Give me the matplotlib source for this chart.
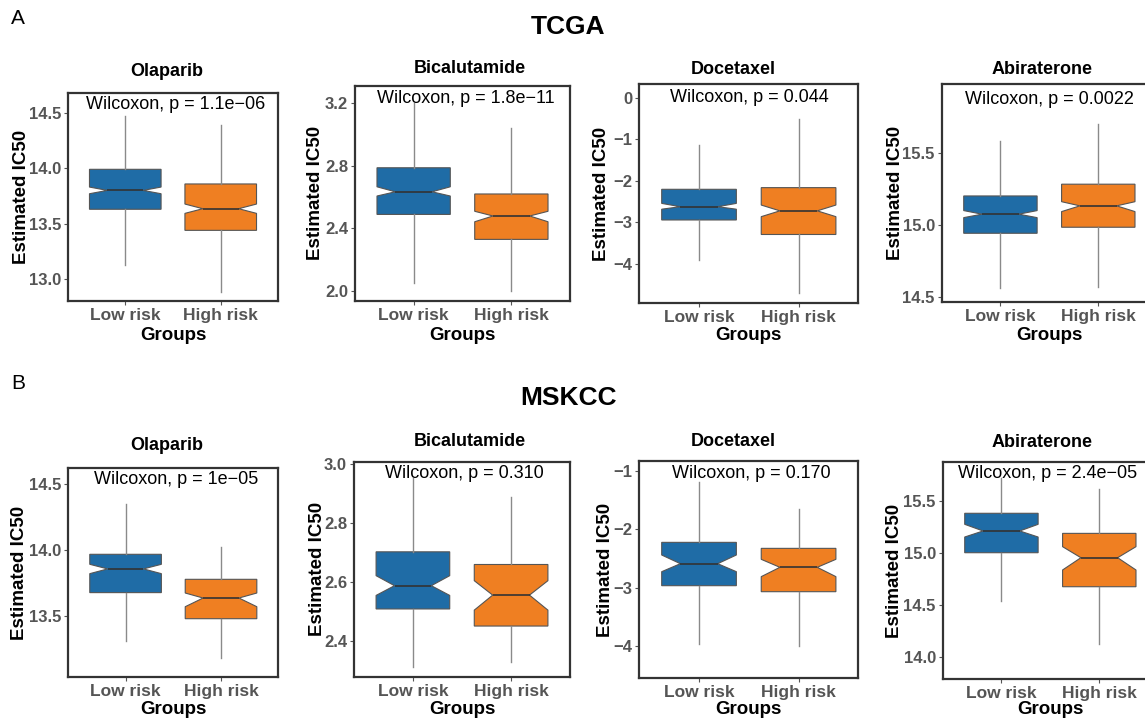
import matplotlib
matplotlib.use("Agg")
import matplotlib.pyplot as plt

plt.rcParams["font.family"] = ["Liberation Sans", "DejaVu Sans"]

W, H = 1145, 722

drugs = ["Olaparib", "Bicalutamide", "Docetaxel", "Abiraterone"]
groups = ["Low risk", "High risk"]
cohorts = ["TCGA", "MSKCC"]

# p-values of the Wilcoxon test per drug
p_tcga = ["1.1e\u221206", "1.8e\u221211", "0.044", "0.0022"]
p_mskcc = ["1e\u221205", "0.310", "0.170", "2.4e\u221205"]

# box statistics: [whisker low, q1, notch low, median, notch high, q3, whisker high]
tcga_low = [
    [13.13, 13.63, 13.77, 13.80, 13.83, 13.99, 14.47],
    [2.046, 2.488, 2.606, 2.633, 2.665, 2.787, 3.205],
    [-3.92, -2.95, -2.69, -2.63, -2.55, -2.21, -1.14],
    [14.559, 14.942, 15.051, 15.075, 15.10, 15.202, 15.588],
]
tcga_high = [
    [12.885, 13.44, 13.593, 13.635, 13.677, 13.858, 14.386],
    [1.997, 2.328, 2.441, 2.478, 2.508, 2.619, 3.044],
    [-4.72, -3.30, -2.87, -2.73, -2.59, -2.17, -0.52],
    [14.570, 14.984, 15.093, 15.133, 15.162, 15.284, 15.704],
]
mskcc_low = [
    [13.308, 13.675, 13.819, 13.855, 13.89, 13.966, 14.346],
    [2.312, 2.508, 2.554, 2.587, 2.621, 2.702, 2.951],
    [-3.971, -2.966, -2.726, -2.589, -2.44, -2.223, -1.183],
    [14.538, 15.0, 15.151, 15.209, 15.273, 15.379, 15.715],
]
mskcc_high = [
    [13.176, 13.477, 13.568, 13.634, 13.672, 13.776, 14.019],
    [2.329, 2.45, 2.504, 2.555, 2.604, 2.659, 2.887],
    [-4.0, -3.069, -2.811, -2.651, -2.514, -2.326, -1.657],
    [14.122, 14.673, 14.834, 14.952, 15.058, 15.186, 15.612],
]

# y ranges and ticks
tcga_ylim = [(12.806, 14.675), (1.935, 3.313), (-4.96, 0.33), (14.461, 15.98)]
mskcc_ylim = [(13.032, 14.619), (2.278, 3.008), (-4.554, -0.823), (13.783, 15.875)]
tcga_yticks = [[13.0, 13.5, 14.0, 14.5], [2.0, 2.4, 2.8, 3.2], [-4, -3, -2, -1, 0], [14.5, 15.0, 15.5]]
mskcc_yticks = [[13.5, 14.0, 14.5], [2.4, 2.6, 2.8, 3.0], [-4, -3, -2, -1], [14.0, 14.5, 15.0, 15.5]]

colors = ["#1F6CA6", "#EF7F22"]

# panel frames in pixels: (left, top, right, bottom)
frames = [
    [(68, 93.3, 278, 300.7), (355, 85.7, 570, 300.7), (639.3, 84, 858.3, 303.3), (941.7, 84.3, 1157, 302.3)],
    [(68.3, 468.3, 278.3, 677.3), (354, 461.7, 570, 676.7), (639.3, 460.7, 858.3, 678.3), (942.7, 461.7, 1158, 679.3)],
]
title_pos = [
    [(167, 71.7), (470, 68.3), (733, 69), (1042, 69)],
    [(167, 445), (470, 441.7), (733, 441.7), (1042, 442.3)],
]
pval_pos = [
    [(175.5, 104.3), (466, 98.3), (749, 97.7), (1049, 99.3)],
    [(175.8, 480), (464, 473.3), (751, 473.3), (1048, 473.3)],
]
ylabel_x = [[21.7, 316, 601.7, 895], [20, 317, 606, 895]]
xlabel_y = [336, 709]


def stats_dict(v):
    return dict(whislo=v[0], q1=v[1], cilo=v[2], med=v[3], cihi=v[4], q3=v[5], whishi=v[6])


fig = plt.figure(figsize=(W / 100, H / 100), dpi=100)

all_low = [tcga_low, mskcc_low]
all_high = [tcga_high, mskcc_high]
all_p = [p_tcga, p_mskcc]
all_ylim = [tcga_ylim, mskcc_ylim]
all_ticks = [tcga_yticks, mskcc_yticks]

for r in range(2):
    for c in range(4):
        x0, y0, x1, y1 = frames[r][c]
        ax = fig.add_axes([x0 / W, 1 - y1 / H, (x1 - x0) / W, (y1 - y0) / H])
        bp = ax.bxp(
            [stats_dict(all_low[r][c]), stats_dict(all_high[r][c])],
            positions=[1, 2], widths=0.75, shownotches=True, showcaps=False,
            showfliers=False, patch_artist=True,
            boxprops=dict(edgecolor="#555555", linewidth=0.8),
            whiskerprops=dict(color="#8a8a8a", linewidth=1.0),
            medianprops=dict(color="#333333", linewidth=1.2),
        )
        for patch, col in zip(bp["boxes"], colors):
            patch.set_facecolor(col)
        ax.set_xlim(0.4, 2.6)
        ax.set_ylim(*all_ylim[r][c])
        ax.set_yticks(all_ticks[r][c])
        ax.set_xticks([1, 2])
        ax.set_xticklabels(groups)
        for lab in ax.get_xticklabels() + ax.get_yticklabels():
            lab.set_fontweight("bold")
            lab.set_color("#555555")
        ax.tick_params(axis="both", length=3, width=0.8, color="#555555", pad=2)
        ax.tick_params(axis="x", labelsize=12.5)
        ax.tick_params(axis="y", labelsize=12)
        for sp in ax.spines.values():
            sp.set_color("#333333")
            sp.set_linewidth(1.6)

        ax.set_ylabel("Estimated IC50", fontsize=13.5, fontweight="bold", va="center")
        ax.yaxis.set_label_coords((ylabel_x[r][c] - x0) / (x1 - x0), 0.5)
        ax.set_xlabel("Groups", fontsize=13.5, fontweight="bold", va="center")
        ax.xaxis.set_label_coords(0.5, (y1 - xlabel_y[r]) / (y1 - y0))

        tx, ty = title_pos[r][c]
        fig.text(tx / W, 1 - ty / H, drugs[c], fontsize=13, fontweight="bold", ha="center", va="center")
        px, py = pval_pos[r][c]
        fig.text(px / W, 1 - py / H, "Wilcoxon, p = " + all_p[r][c], fontsize=13, ha="center", va="center")

fig.text(568 / W, 1 - 27 / H, cohorts[0], fontsize=19, fontweight="bold", ha="center", va="center")
fig.text(568 / W, 1 - 398 / H, cohorts[1], fontsize=19, fontweight="bold", ha="center", va="center")
fig.text(18 / W, 1 - 18 / H, "A", fontsize=15, ha="center", va="center")
fig.text(18 / W, 1 - 383 / H, "B", fontsize=15, ha="center", va="center")

fig.savefig("out.png", dpi=100)
